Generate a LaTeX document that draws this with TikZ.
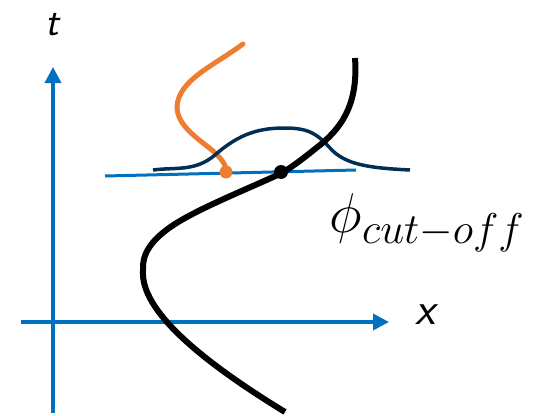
\RequirePackage{fix-cm}
\documentclass[tikz,border=0pt]{standalone}
\usetikzlibrary{arrows.meta}
\DeclareMathSizes{56}{56}{43}{30}
\definecolor{axisblue}{HTML}{0070C0}
\definecolor{curveorange}{HTML}{ED7D31}
\definecolor{navyblue}{HTML}{002F56}
\begin{document}
\begin{tikzpicture}[x=1pt,y=-1pt,
  axisline/.style={draw=axisblue,line width=3.5pt,-{Triangle[length=16pt,width=16pt]}},
  cutline/.style={draw=axisblue,line width=3pt},
  trajline/.style={draw=black,line width=6pt},
  orangeline/.style={draw=curveorange,line width=5pt,line cap=round},
  bellline/.style={draw=navyblue,line width=3.5pt},
  dotnode/.style={circle,inner sep=0pt,minimum size=#1},
  axislabel/.style={font=\sffamily\itshape}]
\useasboundingbox (0,0) rectangle (538,415);
% axes
\coordinate (tbot) at (53,413);
\coordinate (ttop) at (53,67);
\coordinate (xleft) at (21,322);
\coordinate (xright) at (389,322);
\draw[axisline] (tbot) -- (ttop);
\draw[axisline] (xleft) -- (xright);
\node[axislabel,font=\fontsize{40}{44}\sffamily\itshape] (tlabel) at (52,25) {t};
\node[axislabel,font=\fontsize{46}{50}\sffamily\itshape] (xlabel) at (425,315) {x};
% cut-off line
\coordinate (cleft) at (105,176);
\coordinate (cright) at (356,170);
\draw[cutline] (cleft) -- (cright);
% orange curve
\draw[orangeline] (243,44) .. controls (215,65) and (178,80) .. (177,107)
  .. controls (177,130) and (210,145) .. (220,158)
  .. controls (225,164) and (226,167) .. (226,171);
\node[dotnode=13pt,fill=curveorange] (odot) at (226,172) {};
% bell curve
\draw[bellline] (153,170) .. controls (175,167) and (195,172) .. (215,155)
  .. controls (240,133) and (260,128) .. (285,128)
  .. controls (310,128) and (318,135) .. (330,148)
  .. controls (345,165) and (370,168) .. (410,170);
% trajectory
\draw[trajline] (355,58) .. controls (358,100) and (345,125) .. (320,145)
  .. controls (305,157) and (295,165) .. (282,173)
  .. controls (245,190) and (200,208) .. (175,224)
  .. controls (150,240) and (142,255) .. (143,270)
  .. controls (140,310) and (200,360) .. (285,412);
\node[dotnode=14pt,fill=black] (cut) at (281,172) {};
\node[font=\fontsize{56}{60}\selectfont] (philabel) at (427,223) {$\phi_{cut-off}$};
\end{tikzpicture}
\end{document}
